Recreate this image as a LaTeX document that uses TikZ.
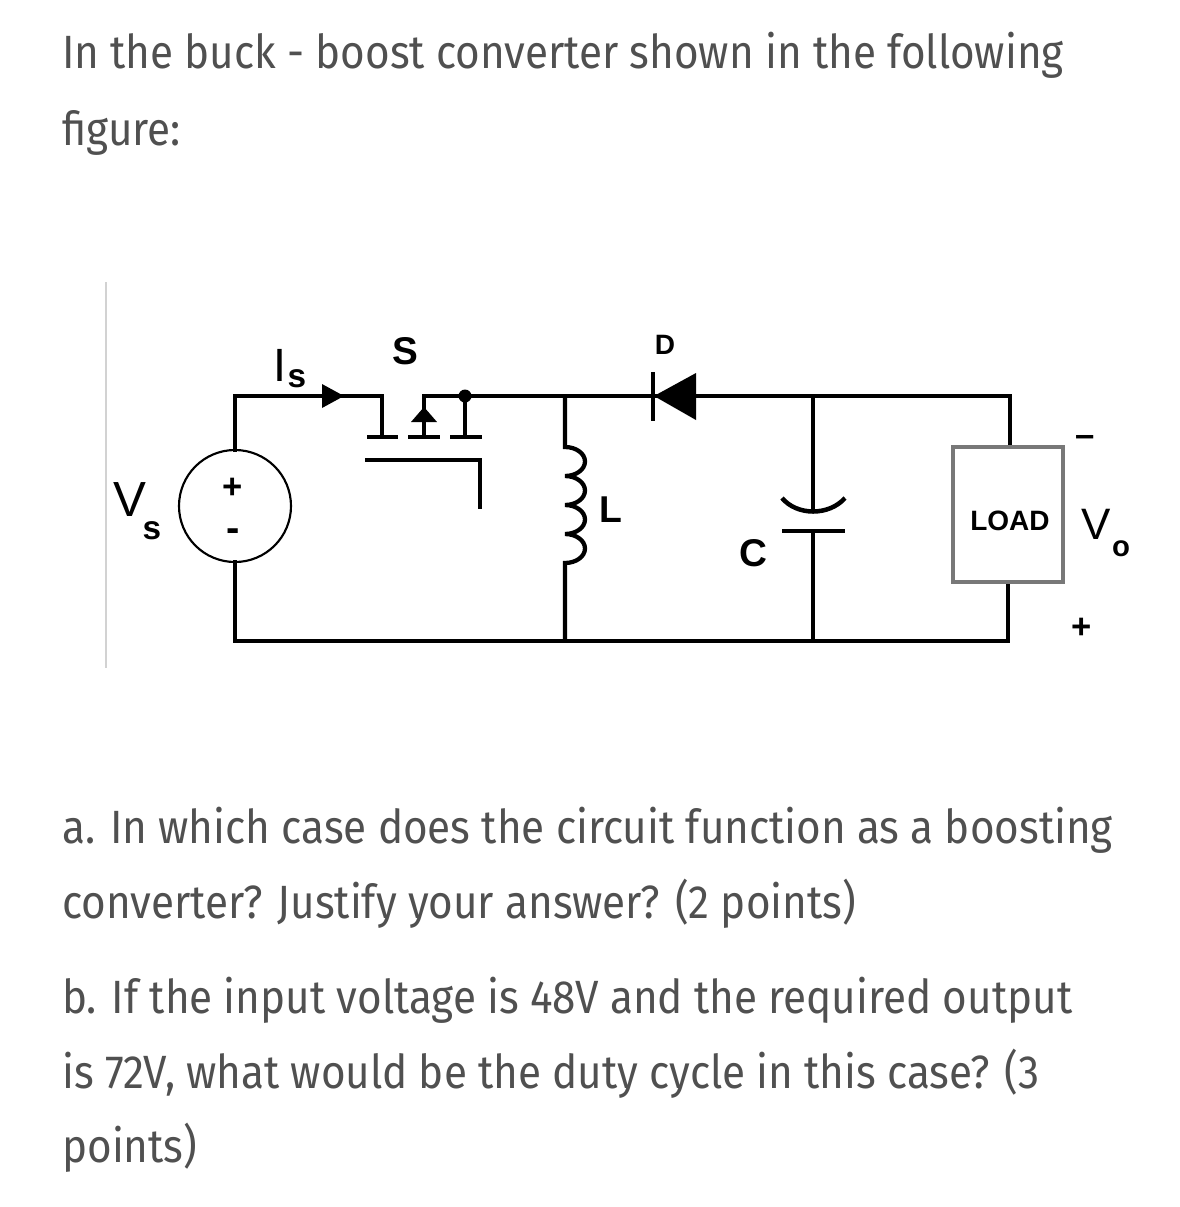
\documentclass[tikz,border=0pt]{standalone}
\usepackage{fontspec}
\setmainfont{Fira Sans}[FakeStretch=0.905]
\newfontfamily\arialfont{Liberation Sans}
\usepackage{tikz}
\usetikzlibrary{positioning}
\definecolor{txtgray}{RGB}{80,80,80}
\definecolor{loadgray}{RGB}{120,120,120}
\definecolor{rulegray}{RGB}{210,210,210}
\tikzset{
  wire/.style={line width=3.2pt,line join=miter,line cap=rect},
  qtext/.style={anchor=base west,inner sep=0pt,text=txtgray,font=\fontsize{35}{35}\selectfont},
  lbl/.style={inner sep=0pt,font=\arialfont\bfseries\fontsize{#1}{#1}\selectfont},
  lblthin/.style={inner sep=0pt,font=\arialfont\fontsize{#1}{#1}\selectfont}
}

\begin{document}
\begin{tikzpicture}[x=0.75pt,y=0.75pt,yscale=-1,xscale=1]
\useasboundingbox (0,0) rectangle (1179,1207);

% Text Node
\node[qtext] (q1) at (62,68) {In the buck - boost converter shown in the following};
% Text Node
\node[qtext] (q2) at (62,145) {figure:};

%Shape: Line [gray rule]
\draw[rulegray,line width=2.2pt] (106,282) -- (106,668);

% junctions
\coordinate (tl) at (235,396);
\coordinate (bl) at (235,641);
\coordinate (sd) at (382,396);
\coordinate (dot) at (465,396);
\coordinate (ltop) at (565,396);
\coordinate (lbot) at (565,641);
\coordinate (ctop) at (813,396);
\coordinate (cbot) at (813,641);
\coordinate (rtop) at (1010,396);
\coordinate (rbot) at (1008,641);

%Shape: Circle [source]
\draw[line width=1.6pt] (235,506) circle (56);
\draw[wire] (235,450) -- (tl) -- (sd) -- (382,437);
\draw[wire] (235,562) -- (bl) -- (rbot) -- (1008,582);
%Shape: Triangle [current arrow]
\fill (322,384) -- (344,396) -- (322,408) -- cycle;

%Shape: MOSFET
\draw[wire,line cap=butt] (367,437) -- (398,437);
\draw[wire,line cap=butt] (408,437) -- (440,437);
\draw[wire,line cap=butt] (450,437) -- (482,437);
\draw[wire] (424,437) -- (424,396) -- (dot);
\fill (424,407) -- (437,422) -- (411,422) -- cycle;
\draw[wire] (dot) -- (465,437);
\fill (dot) circle (6.5);
\draw[wire] (367,460) -- (480,460) -- (480,507);
\draw[wire] (dot) -- (rtop) -- (1010,447);

%Shape: Inductor
\draw[wire,line cap=butt] (ltop) -- (565,447)
  arc[start angle=-90,end angle=90,x radius=20,y radius=14.5]
  arc[start angle=-90,end angle=90,x radius=20,y radius=14.5]
  arc[start angle=-90,end angle=90,x radius=20,y radius=14.5]
  arc[start angle=-90,end angle=90,x radius=20,y radius=14.5]
  -- (lbot);

%Shape: Diode
\fill (654,396) -- (696,373) -- (696,420) -- cycle;
\draw[line width=3.4pt] (653,372) -- (653,421);

%Shape: Capacitor
\draw[wire,line cap=butt] (ctop) -- (813,512);
\draw[line width=3.4pt] (782,498) .. controls (797,516) and (829,516) .. (845,498);
\draw[line width=3.4pt] (782,531) -- (845,531);
\draw[wire,line cap=butt] (813,531) -- (cbot);

%Shape: Rectangle [load]
\draw[loadgray,line width=2.4pt] (953,447) rectangle (1063,582);

% Text Node
\node[lbl=29] (s) at (405,351) {S};
\node[lblthin=35] (is) at (280,365) {I};
\node[lbl=25] (iss) at (297,379) {s};
\node[lblthin=37] (vs) at (130,500) {V};
\node[lbl=25] (vss) at (152,531) {s};
\node[lbl=26] (vp) at (233,488) {+};
\node[lbl=30] (vm) at (233,535) {-};
\node[lbl=21] (d) at (665,345) {D};
\node[lbl=28] (l) at (611,510) {L};
\node[lbl=29] (c) at (753,553) {C};
\node[lbl=21] (load) at (1010,521) {LOAD};
\node[lbl=26] (om) at (1085,441) {–};
\node[lblthin=33] (vo) at (1096,524) {V};
\node[lbl=22] (vos) at (1121,549) {o};
\node[lbl=26] (op) at (1082,628) {+};

% Text Node
\node[qtext] (q3) at (62,843) {a. In which case does the circuit function as a boosting};
\node[qtext] (q4) at (62,918) {converter? Justify your answer? (2 points)};
\node[qtext] (q5) at (62,1013) {b. If the input voltage is 48V and the required output};
\node[qtext] (q6) at (62,1088) {is 72V, what would be the duty cycle in this case? (3};
\node[qtext] (q7) at (62,1162) {points)};

\end{tikzpicture}
\end{document}
